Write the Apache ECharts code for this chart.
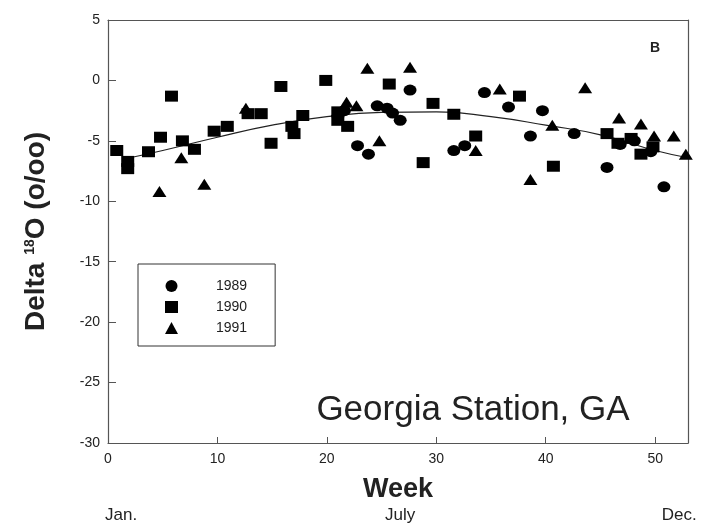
<!DOCTYPE html>
<html>
<head>
<meta charset="utf-8">
<script src="https://cdn.jsdelivr.net/npm/echarts@6/dist/echarts.min.js"></script>
<style>
    html, body { margin: 0; padding: 0; background: #fff; }
    #chart { width: 708px; height: 527px; }
</style>
</head>
<body>
<div id="chart"></div>
<script>
// 1989 数据 [周, delta 18O]
var data1989 = [
    [21.6, -2.5], [22.8, -5.4], [23.8, -6.1], [24.6, -2.1], [25.5, -2.3],
    [26.0, -2.7], [26.7, -3.3], [27.6, -0.8], [31.6, -5.8], [32.6, -5.4],
    [34.4, -1.0], [36.6, -2.2], [38.6, -4.6], [39.7, -2.5], [42.6, -4.4],
    [45.6, -7.2], [46.8, -5.3], [48.1, -5.0], [49.6, -5.9], [50.8, -8.8]
];
// 1990 数据
var data1990 = [
    [0.8, -5.8], [1.8, -6.7], [1.8, -7.3], [3.7, -5.9], [4.8, -4.7],
    [5.8, -1.3], [6.8, -5.0], [7.9, -5.7], [9.7, -4.2], [10.9, -3.8],
    [12.8, -2.75], [14.0, -2.75], [14.9, -5.2], [15.8, -0.5], [16.8, -3.8],
    [17.0, -4.4], [17.8, -2.9], [19.9, 0], [21.0, -2.6], [21.0, -3.3],
    [21.9, -3.8], [25.7, -0.3], [28.8, -6.8], [29.7, -1.9], [31.6, -2.8],
    [33.6, -4.6], [37.6, -1.3], [40.7, -7.1], [45.6, -4.4], [46.6, -5.2],
    [47.8, -4.8], [48.7, -6.1], [49.8, -5.5]
];
// 1991 数据
var data1991 = [
    [4.7, -9.2], [6.7, -6.4], [8.8, -8.6], [12.6, -2.3], [21.8, -1.8],
    [22.7, -2.1], [23.7, 1.0], [24.8, -5.0], [27.6, 1.1], [33.6, -5.8],
    [35.8, -0.7], [38.6, -8.2], [40.6, -3.7], [43.6, -0.6], [46.7, -3.1],
    [48.7, -3.6], [49.9, -4.6], [51.7, -4.6], [52.8, -6.1]
];
// 拟合曲线
var fitWeeks = [2, 5, 10, 15, 20, 25, 30, 35, 40, 45, 50, 53];
var fitValues = [-6.4, -5.8, -4.7, -3.7, -3.0, -2.65, -2.6, -3.0, -3.7, -4.5, -5.8, -6.4];
// 月份标签
var monthLabels = ['Jan.', 'July', 'Dec.'];
var monthWeeks = [1.2, 26.7, 52.2];

var axisColor = '#555';
var textColor = '#222';

var myChart = echarts.init(document.getElementById('chart'));

var fitData = fitWeeks.map(function (w, i) {
    return [w, fitValues[i]];
});

var option = {
    animation: false,
    backgroundColor: '#fff',
    grid: {
        left: 108,
        right: 20,
        top: 20,
        bottom: 84
    },
    legend: {
        orient: 'vertical',
        left: 138,
        top: 264,
        data: [
            { name: '1989', icon: 'circle' },
            { name: '1990', icon: 'rect' },
            { name: '1991', icon: 'triangle' }
        ],
        itemWidth: 13,
        itemHeight: 12,
        itemGap: 7,
        padding: [15, 28, 11, 27],
        borderColor: '#333',
        borderWidth: 1,
        textStyle: {
            color: textColor,
            fontSize: 14,
            fontFamily: 'Liberation Sans',
            padding: [0, 0, 0, 33]
        }
    },
    xAxis: [{
        type: 'value',
        min: 0,
        max: 53,
        interval: 10,
        name: 'Week',
        nameLocation: 'middle',
        nameGap: 33,
        nameTextStyle: {
            color: textColor,
            fontSize: 27,
            fontWeight: 'bold',
            fontFamily: 'Liberation Sans'
        },
        axisLine: { onZero: false, lineStyle: { color: axisColor, width: 1.2 } },
        axisTick: { inside: true, length: 6, lineStyle: { color: axisColor } },
        axisLabel: {
            color: textColor,
            fontSize: 14,
            fontFamily: 'Liberation Sans',
            margin: 9,
            showMaxLabel: false
        },
        splitLine: { show: false }
    }, {
        type: 'value',
        position: 'top',
        min: 0,
        max: 53,
        axisLine: { show: true, onZero: false, lineStyle: { color: axisColor, width: 1.2 } },
        axisTick: { show: false },
        axisLabel: { show: false },
        splitLine: { show: false }
    }],
    yAxis: [{
        type: 'value',
        min: -30,
        max: 5,
        interval: 5,
        name: '{b|Delta }{s|18}{b|O (o/oo)}',
        nameLocation: 'middle',
        nameGap: 58,
        nameTextStyle: {
            rich: {
                b: {
                    color: textColor,
                    fontSize: 28,
                    fontWeight: 'bold',
                    fontFamily: 'Liberation Sans'
                },
                s: {
                    color: textColor,
                    fontSize: 14,
                    fontWeight: 'bold',
                    fontFamily: 'Liberation Sans',
                    padding: [0, 0, 12, 0]
                }
            }
        },
        axisLine: { show: true, onZero: false, lineStyle: { color: axisColor, width: 1.2 } },
        axisTick: { inside: true, length: 8, lineStyle: { color: axisColor } },
        axisLabel: {
            color: textColor,
            fontSize: 14,
            fontFamily: 'Liberation Sans',
            margin: 8
        },
        splitLine: { show: false }
    }, {
        type: 'value',
        position: 'right',
        min: -30,
        max: 5,
        axisLine: { show: true, onZero: false, lineStyle: { color: axisColor, width: 1.2 } },
        axisTick: { show: false },
        axisLabel: { show: false },
        splitLine: { show: false }
    }],
    series: [{
        name: '1989',
        type: 'scatter',
        data: data1989,
        symbol: 'circle',
        symbolSize: [13, 11],
        itemStyle: { color: '#000', opacity: 1 }
    }, {
        name: '1990',
        type: 'scatter',
        data: data1990,
        symbol: 'rect',
        symbolSize: [13, 11],
        itemStyle: { color: '#000', opacity: 1 }
    }, {
        name: '1991',
        type: 'scatter',
        data: data1991,
        symbol: 'triangle',
        symbolSize: [14, 11],
        itemStyle: { color: '#000', opacity: 1 }
    }, {
        name: 'fit',
        type: 'line',
        data: fitData,
        smooth: true,
        symbol: 'none',
        z: 1,
        lineStyle: { color: '#222', width: 1.2 }
    }]
};

myChart.setOption(option);

// 月份标签和文字
var graphics = monthLabels.map(function (label, i) {
    var px = myChart.convertToPixel({ xAxisIndex: 0 }, monthWeeks[i]);
    return {
        type: 'text',
        x: px,
        y: 515,
        style: {
            text: label,
            fill: textColor,
            fontSize: 17,
            fontFamily: 'Liberation Sans',
            align: 'center',
            verticalAlign: 'middle'
        }
    };
});
graphics.push({
    type: 'text',
    x: 473,
    y: 410,
    style: {
        text: 'Georgia Station, GA',
        fill: textColor,
        fontSize: 35,
        fontFamily: 'Liberation Sans',
        align: 'center',
        verticalAlign: 'middle'
    }
});
graphics.push({
    type: 'text',
    x: 655,
    y: 48,
    style: {
        text: 'B',
        fill: textColor,
        fontSize: 14,
        fontWeight: 'bold',
        fontFamily: 'Liberation Sans',
        align: 'center',
        verticalAlign: 'middle'
    }
});
myChart.setOption({ graphic: graphics });
</script>
</body>
</html>
